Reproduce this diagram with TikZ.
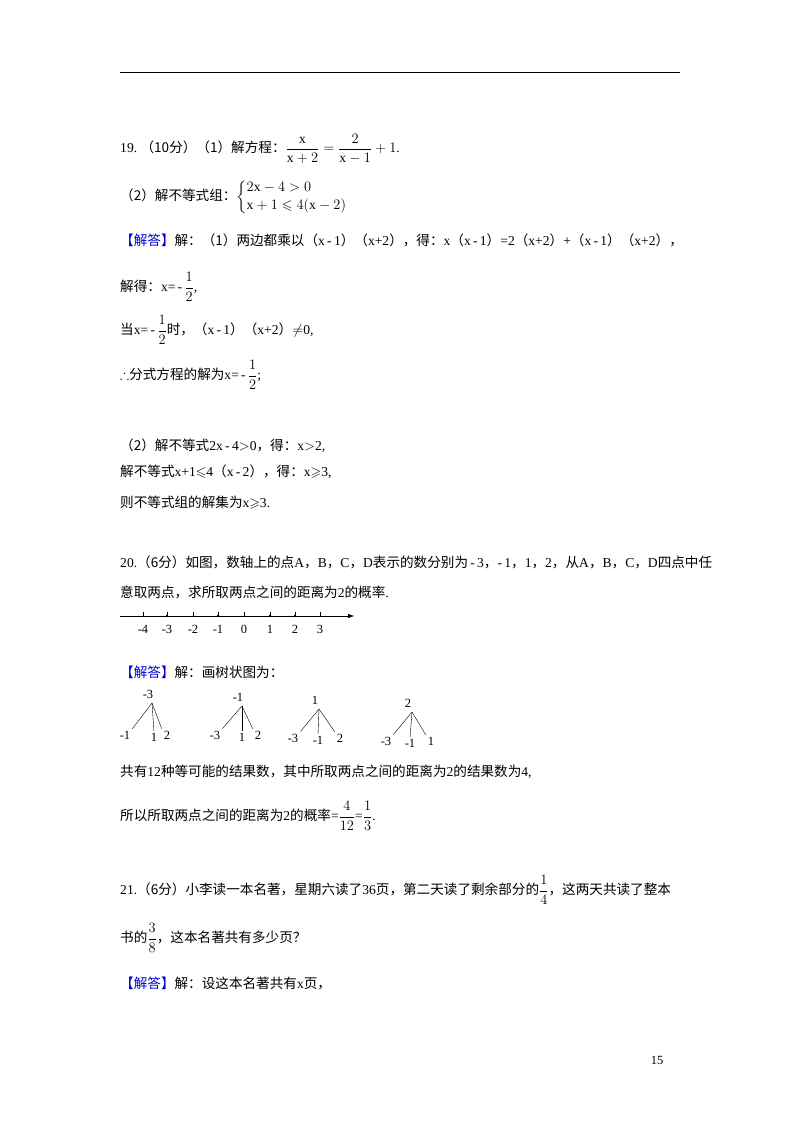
\documentclass[tikz,border=0pt]{standalone}
\usepackage{amsmath,amssymb}
\usepackage{fontspec}
\setmainfont{Liberation Serif}
\newfontfamily\cjk{Noto Sans CJK SC}
\usetikzlibrary{arrows.meta}
\newcommand{\zh}[1]{{\cjk #1}}
\newcommand{\lp}{\zh{（}}
\newcommand{\rp}{\zh{）}}
\newcommand{\cm}{\zh{，}}
\begin{document}
\begin{tikzpicture}[x=1pt,y=-1pt,
  ln/.style={anchor=west,inner sep=0pt,font=\fontsize{13.6}{15}\selectfont},
  sm/.style={inner sep=0pt,font=\fontsize{12.5}{14}\selectfont}]
\useasboundingbox (0,0) rectangle (800,1132);
\fill[white] (0,0) rectangle (800,1132);
\draw[line width=0.8pt] (120,72) -- (680,72);
% 19
\node[ln] (q19) at (120,149) {19.\ \zh{（10分）（1）解方程：}$\dfrac{\mathrm{x}}{\mathrm{x}+2}=\dfrac{2}{\mathrm{x}-1}+1$.};
\node[ln] (q19b) at (120,197) {\zh{（2）解不等式组：}$\begin{cases}2\mathrm{x}-4>0\\ \mathrm{x}+1\leqslant 4(\mathrm{x}-2)\end{cases}$};
\node[ln] (a19) at (120,240) {\zh{\textcolor{blue!80!black}{【解答】}解：（1）两边都乘以}\lp x\,-\,1\rp\lp x+2\rp\zh{，得：}x\lp x\,-\,1\rp=2\lp x+2\rp+\lp x\,-\,1\rp\lp x+2\rp\cm};
\node[ln] (l2) at (120,287) {\zh{解得：}x=\,-\,$\dfrac{1}{2}$,};
\node[ln] (l3) at (120,330) {\zh{当}x=\,-\,$\dfrac{1}{2}$\zh{时，}\lp x\,-\,1\rp\lp x+2\rp$\neq$0,};
\node[ln] (l4) at (120,375) {$\therefore$\zh{分式方程的解为}x=\,-\,$\dfrac{1}{2}$;};
\node[ln] (l5) at (120,446) {\zh{（2）解不等式}2x\,-\,4$>$0\zh{，得：}x$>$2,};
\node[ln] (l6) at (120,472) {\zh{解不等式}x+1$\leqslant$4\lp x\,-\,2\rp\zh{，得：}x$\geqslant$3,};
\node[ln] (l7) at (120,503) {\zh{则不等式组的解集为}x$\geqslant$3.};
% 20
\node[ln] (q20) at (120,562) {20.\zh{（6分）如图，数轴上的点}A\cm B\cm C\cm D\zh{表示的数分别为}\,-\,3\cm-\,1\cm1\cm2\zh{，从}A\cm B\cm C\cm D\zh{四点中任}};
\node[ln] (q20b) at (120,592) {\zh{意取两点，求所取两点之间的距离为}2\zh{的概率}.};
\coordinate (s) at (120,616); \coordinate (e) at (354,616);
\draw[-{Latex[length=6pt]}] (s) -- (e);
\foreach \x/\l in {143/-4,167/-3,193/-2,218/-1,244/0,270/1,295/2,320/3}{
  \draw (\x,612) -- (\x,616);
  \node[sm] at (\x,629) {\l};}
\foreach \x in {167,218,270,295} \fill (\x,616) circle (1.4pt);
\node[ln] (a20) at (120,672) {\zh{\textcolor{blue!80!black}{【解答】}解：画树状图为：}};
\foreach \n/\r/\rx/\ry/\a/\b/\c/\ax/\bx/\cx/\ly in {
  t1/-3/148/694/-1/1/2/125/154/167/735,
  t2/-1/238/697/-3/1/2/215/242/258/735,
  t3/1/315/700/-3/-1/2/293/318/340/738,
  t4/2/408/703/-3/-1/1/386/410/431/741}{
  \node[sm] (\n r) at (\rx,\ry) {\r};
  \coordinate (\n o) at (\rx+4,\ry+9);
  \node[sm] (\n a) at (\ax,\ly) {\a};
  \node[sm] (\n b) at (\bx,\ly+2) {\b};
  \node[sm] (\n c) at (\cx,\ly) {\c};
  \draw (\n o) -- ([xshift=2pt,yshift=2pt]\n a.north east);
  \draw (\n o) -- ([yshift=1.5pt]\n b.north);
  \draw (\n o) -- ([xshift=-2pt,yshift=2pt]\n c.north west);}
\node[ln] (l8) at (120,772) {\zh{共有}12\zh{种等可能的结果数，其中所取两点之间的距离为}2\zh{的结果数为}4,};
\node[ln] (l9) at (120,816) {\zh{所以所取两点之间的距离为}2\zh{的概率}=$\dfrac{4}{12}$=$\dfrac{1}{3}$.};
% 21
\node[ln] (q21) at (120,890) {21.\zh{（6分）小李读一本名著，星期六读了}36\zh{页，第二天读了剩余部分的}$\dfrac{1}{4}$\zh{，这两天共读了整本}};
\node[ln] (q21b) at (120,938) {\zh{书的}$\dfrac{3}{8}$\zh{，这本名著共有多少页？}};
\node[ln] (a21) at (120,983) {\zh{\textcolor{blue!80!black}{【解答】}解：设这本名著共有}x\zh{页，}};
\node[sm] (pg) at (657,1060) {15};
\end{tikzpicture}
\end{document}
